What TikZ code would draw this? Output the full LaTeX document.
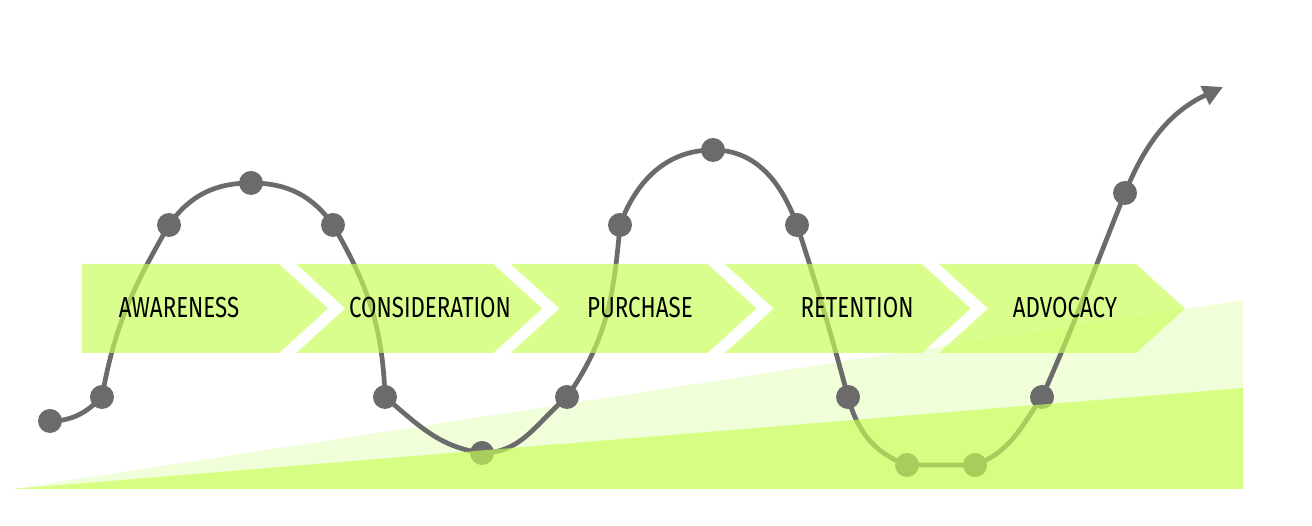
\documentclass[tikz,border=0pt]{standalone}
\usepackage{fontspec}
\setmainfont{Fira Sans}[FakeStretch=0.77]
\usepackage{xcolor}
\usetikzlibrary{arrows.meta}
\definecolor{curvegray}{HTML}{6B6B6B}
\definecolor{stagegreen}{HTML}{C8FE57}
\definecolor{palegreen}{HTML}{F1FEDA}

\begin{document}
\begin{tikzpicture}[x=0.02cm, y=0.02cm,
  waypoint/.style={circle, fill=curvegray, inner sep=0pt, minimum size=0.48cm},
  stage/.style={fill=stagegreen, fill opacity=0.67},
  stagetext/.style={font=\fontsize{16.5}{20}\selectfont, text=black}]
\useasboundingbox (0,0) rectangle (1312,526);
\fill[palegreen] (12,37) -- (1243,226) -- (1243,37) -- cycle;
\foreach \x/\y [count=\i] in {50/105, 102/129, 169/301, 251/343, 333/301, 385/129, 482/73, 567/129,
  620/301, 713/376, 797/301, 848/129, 907/61, 975/61, 1042/129, 1125/333}
  \coordinate (p\i) at (\x,\y);
\coordinate (tip) at (1223,439);
\draw[curvegray, line width=2.7pt, -{Triangle[length=0.4cm, width=0.4cm]}]
  (p1) to[out=0, in=225] (p2) to[out=80, in=240] (p3) to[out=55, in=180] (p4)
  to[out=0, in=125] (p5) to[out=-60, in=92] (p6) to[out=-40, in=172] (p7)
  to[out=0, in=220] (p8) to[out=55, in=265] (p9) to[out=70, in=180] (p10)
  to[out=0, in=110] (p11) to[out=-72, in=105] (p12) to[out=-75, in=160] (p13)
  -- (p14) to[out=20, in=235] (p15) to[out=66, in=248] (p16) to[out=68, in=205] (tip);
\foreach \i in {1,...,16}
  \node[waypoint] (d\i) at (p\i) {};
\fill[stage] (82,262) -- (279,262) -- (328,217.5) -- (279,173) -- (82,173) -- cycle;
\foreach \s in {296.25, 510.5, 724.75, 939}
  \fill[stage] (\s,262) -- (\s+197,262) -- (\s+246,217.5) -- (\s+197,173) -- (\s,173) -- (\s+49,217.5) -- cycle;
\node[stagetext] (awareness) at (179,218) {AWARENESS};
\node[stagetext] (consideration) at (430,218) {CONSIDERATION};
\node[stagetext] (purchase) at (640,218) {PURCHASE};
\node[stagetext] (retention) at (857,218) {RETENTION};
\node[stagetext] (advocacy) at (1065,218) {ADVOCACY};
\fill[stage] (12,37) -- (1243,138) -- (1243,37) -- cycle;
\end{tikzpicture}
\end{document}
